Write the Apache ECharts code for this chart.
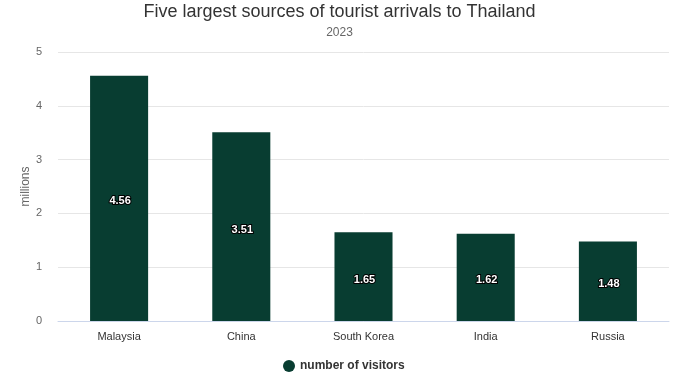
<!DOCTYPE html>
<html>
<head>
<meta charset="utf-8">
<script src="https://cdn.jsdelivr.net/npm/echarts@6/dist/echarts.min.js"></script>
<style>
  html, body { margin: 0; padding: 0; background: #fff; }
  #chart { width: 679px; height: 377px; }
</style>
</head>
<body>
<div id="chart"></div>
<script>
const countries = ['Malaysia', 'China', 'South Korea', 'India', 'Russia']
const visitors = [4.56, 3.51, 1.65, 1.62, 1.48]
const seriesName = 'number of visitors'

const chart = echarts.init(document.getElementById('chart'))
chart.setOption({
  animation: false,
  textStyle: { fontFamily: 'Liberation Sans, Arial, sans-serif' },
  title: {
    text: 'Five largest sources of tourist arrivals to Thailand',
    subtext: '2023',
    left: 'center',
    top: -2,
    itemGap: 6,
    textStyle: { fontSize: 18, fontWeight: 'normal', color: '#333333' },
    subtextStyle: { fontSize: 12, color: '#666666' }
  },
  legend: {
    bottom: 0,
    left: 278,
    icon: 'circle',
    itemWidth: 12,
    itemHeight: 12,
    textStyle: { fontSize: 12, fontWeight: 'bold', color: '#333333' },
    data: [seriesName]
  },
  grid: {
    left: 58,
    right: 10,
    top: 52,
    bottom: 56
  },
  xAxis: {
    type: 'category',
    data: countries,
    axisTick: { show: false },
    axisLine: { lineStyle: { color: '#ccd6eb' } },
    axisLabel: { color: '#333333', fontSize: 11, margin: 10 }
  },
  yAxis: {
    type: 'value',
    min: 0,
    max: 5,
    interval: 1,
    name: 'millions',
    nameLocation: 'middle',
    nameGap: 26,
    nameMoveOverlap: false,
    nameTextStyle: { color: '#666666', fontSize: 12 },
    axisLabel: { color: '#666666', fontSize: 11, margin: 16 },
    splitLine: { lineStyle: { color: '#e6e6e6' } }
  },
  series: [{
    name: seriesName,
    type: 'bar',
    data: visitors,
    barWidth: '47.5%',
    itemStyle: { color: '#083d31' },
    label: {
      show: true,
      position: 'inside',
      offset: [1, 3],
      color: '#ffffff',
      fontSize: 11,
      fontWeight: 'bold',
      textBorderColor: '#000000',
      textBorderWidth: 2
    }
  }]
})
</script>
</body>
</html>
